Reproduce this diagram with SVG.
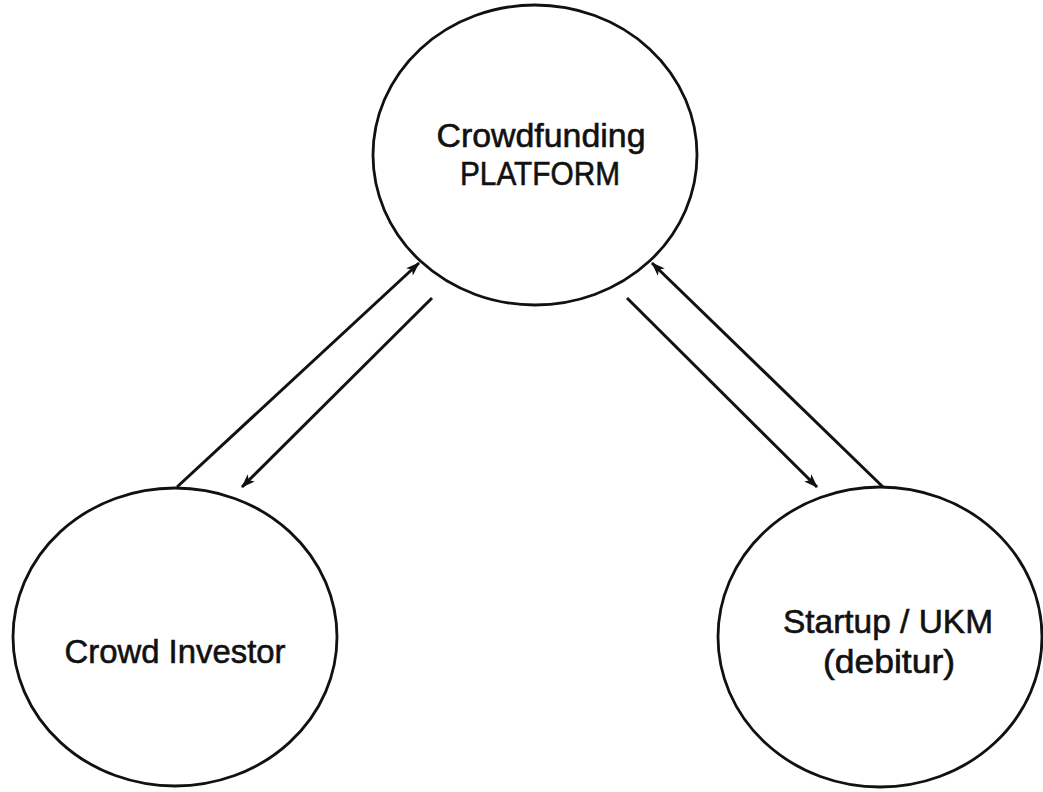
<svg xmlns="http://www.w3.org/2000/svg" width="1043" height="792" viewBox="0 0 1043 792">
<style>
.node{fill:#fff;stroke:#111;stroke-width:2.8}
.lbl{font-family:"Liberation Sans",Arial,sans-serif;font-size:34px;fill:#111;stroke:#111;stroke-width:0.6;text-anchor:middle}
.conn{stroke:#111;stroke-width:3;fill:none;marker-end:url(#arr)}
</style>
<defs>
<marker id="arr" viewBox="0 0 14 11" refX="13" refY="5.5" markerWidth="14" markerHeight="11" markerUnits="userSpaceOnUse" orient="auto">
<path d="M0,0.5 L14,5.5 L0,10.5 L3.5,5.5 Z" fill="#111"/>
</marker>
</defs>
<rect width="1043" height="792" fill="#fff"/>
<g id="platform">
<ellipse class="node" cx="535" cy="155" rx="162" ry="150"/>
<text class="lbl" x="541" y="147" textLength="209" lengthAdjust="spacingAndGlyphs">Crowdfunding</text>
<text class="lbl" x="540" y="185" textLength="160" lengthAdjust="spacingAndGlyphs">PLATFORM</text>
</g>
<g id="investor">
<ellipse class="node" cx="175" cy="637" rx="162" ry="149"/>
<text class="lbl" x="175" y="663" textLength="221" lengthAdjust="spacingAndGlyphs">Crowd Investor</text>
</g>
<g id="startup">
<ellipse class="node" cx="880" cy="637" rx="162" ry="150"/>
<text class="lbl" x="888" y="633" textLength="210" lengthAdjust="spacingAndGlyphs">Startup / UKM</text>
<text class="lbl" x="889" y="673" textLength="132" lengthAdjust="spacingAndGlyphs">(debitur)</text>
</g>
<g id="connectors">
<line class="conn" x1="177" y1="487" x2="419" y2="263"/>
<line class="conn" x1="432" y1="298" x2="242" y2="487"/>
<line class="conn" x1="627" y1="298" x2="817" y2="487"/>
<line class="conn" x1="883" y1="487" x2="652" y2="263"/>
</g>
</svg>
